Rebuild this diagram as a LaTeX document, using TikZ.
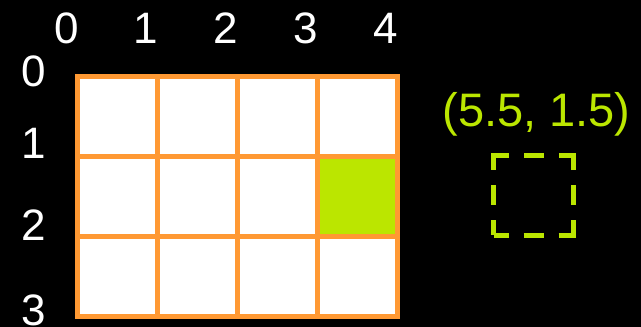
\documentclass[tikz,border=0pt]{standalone}
\usepackage{fontspec}
\setmainfont{Liberation Sans}
\definecolor{gridorange}{RGB}{255,153,51}
\definecolor{lime}{RGB}{187,230,0}
\begin{document}
\begin{tikzpicture}[x=1pt,y=-1pt,
  cell/.style={draw=gridorange,line width=5pt,fill=white,minimum size=80pt,inner sep=0pt,outer sep=0pt},
  num/.style={text=white,font=\fontsize{44}{50}\selectfont,inner sep=0pt},
  target/.style={draw=lime,line width=5pt,minimum size=80pt,inner sep=0pt,line join=miter,dash pattern=on 30pt off 15pt on 20pt off 15pt,dash phase=15pt}]
\fill[black] (0,0) rectangle (641,327);
\useasboundingbox (0,0) rectangle (641,327);
% grid cells
\foreach \r in {0,1,2}{
  \foreach \c in {0,1,2,3}{
    \node[cell] (c\r\c) at ({117+80*\c},{116+80*\r}) {};
  }
}
\node[cell,fill=lime] (hit) at (357,196) {};
% redraw borders on top
\foreach \r in {0,1,2}{
  \foreach \c in {0,1,2,3}{
    \draw[gridorange,line width=5pt] (c\r\c.north west) rectangle (c\r\c.south east);
  }
}
% column labels
\node[num] (t0) at (66.5,28) {0};
\node[num] (t1) at (146,28) {1};
\node[num] (t2) at (226,28) {2};
\node[num] (t3) at (306,28) {3};
\node[num] (t4) at (386,28) {4};
% row labels
\node[num] (l0) at (33.5,71) {0};
\node[num] (l1) at (33.5,143) {1};
\node[num] (l2) at (33.5,225) {2};
\node[num] (l3) at (33.5,310) {3};
% target box
\node[target] (box) at (533.5,195) {};
\node[text=lime,font=\fontsize{47}{54}\selectfont,inner sep=0pt,anchor=base] (lab) at (536.5,126) {(5.5, 1.5)};
\end{tikzpicture}
\end{document}
